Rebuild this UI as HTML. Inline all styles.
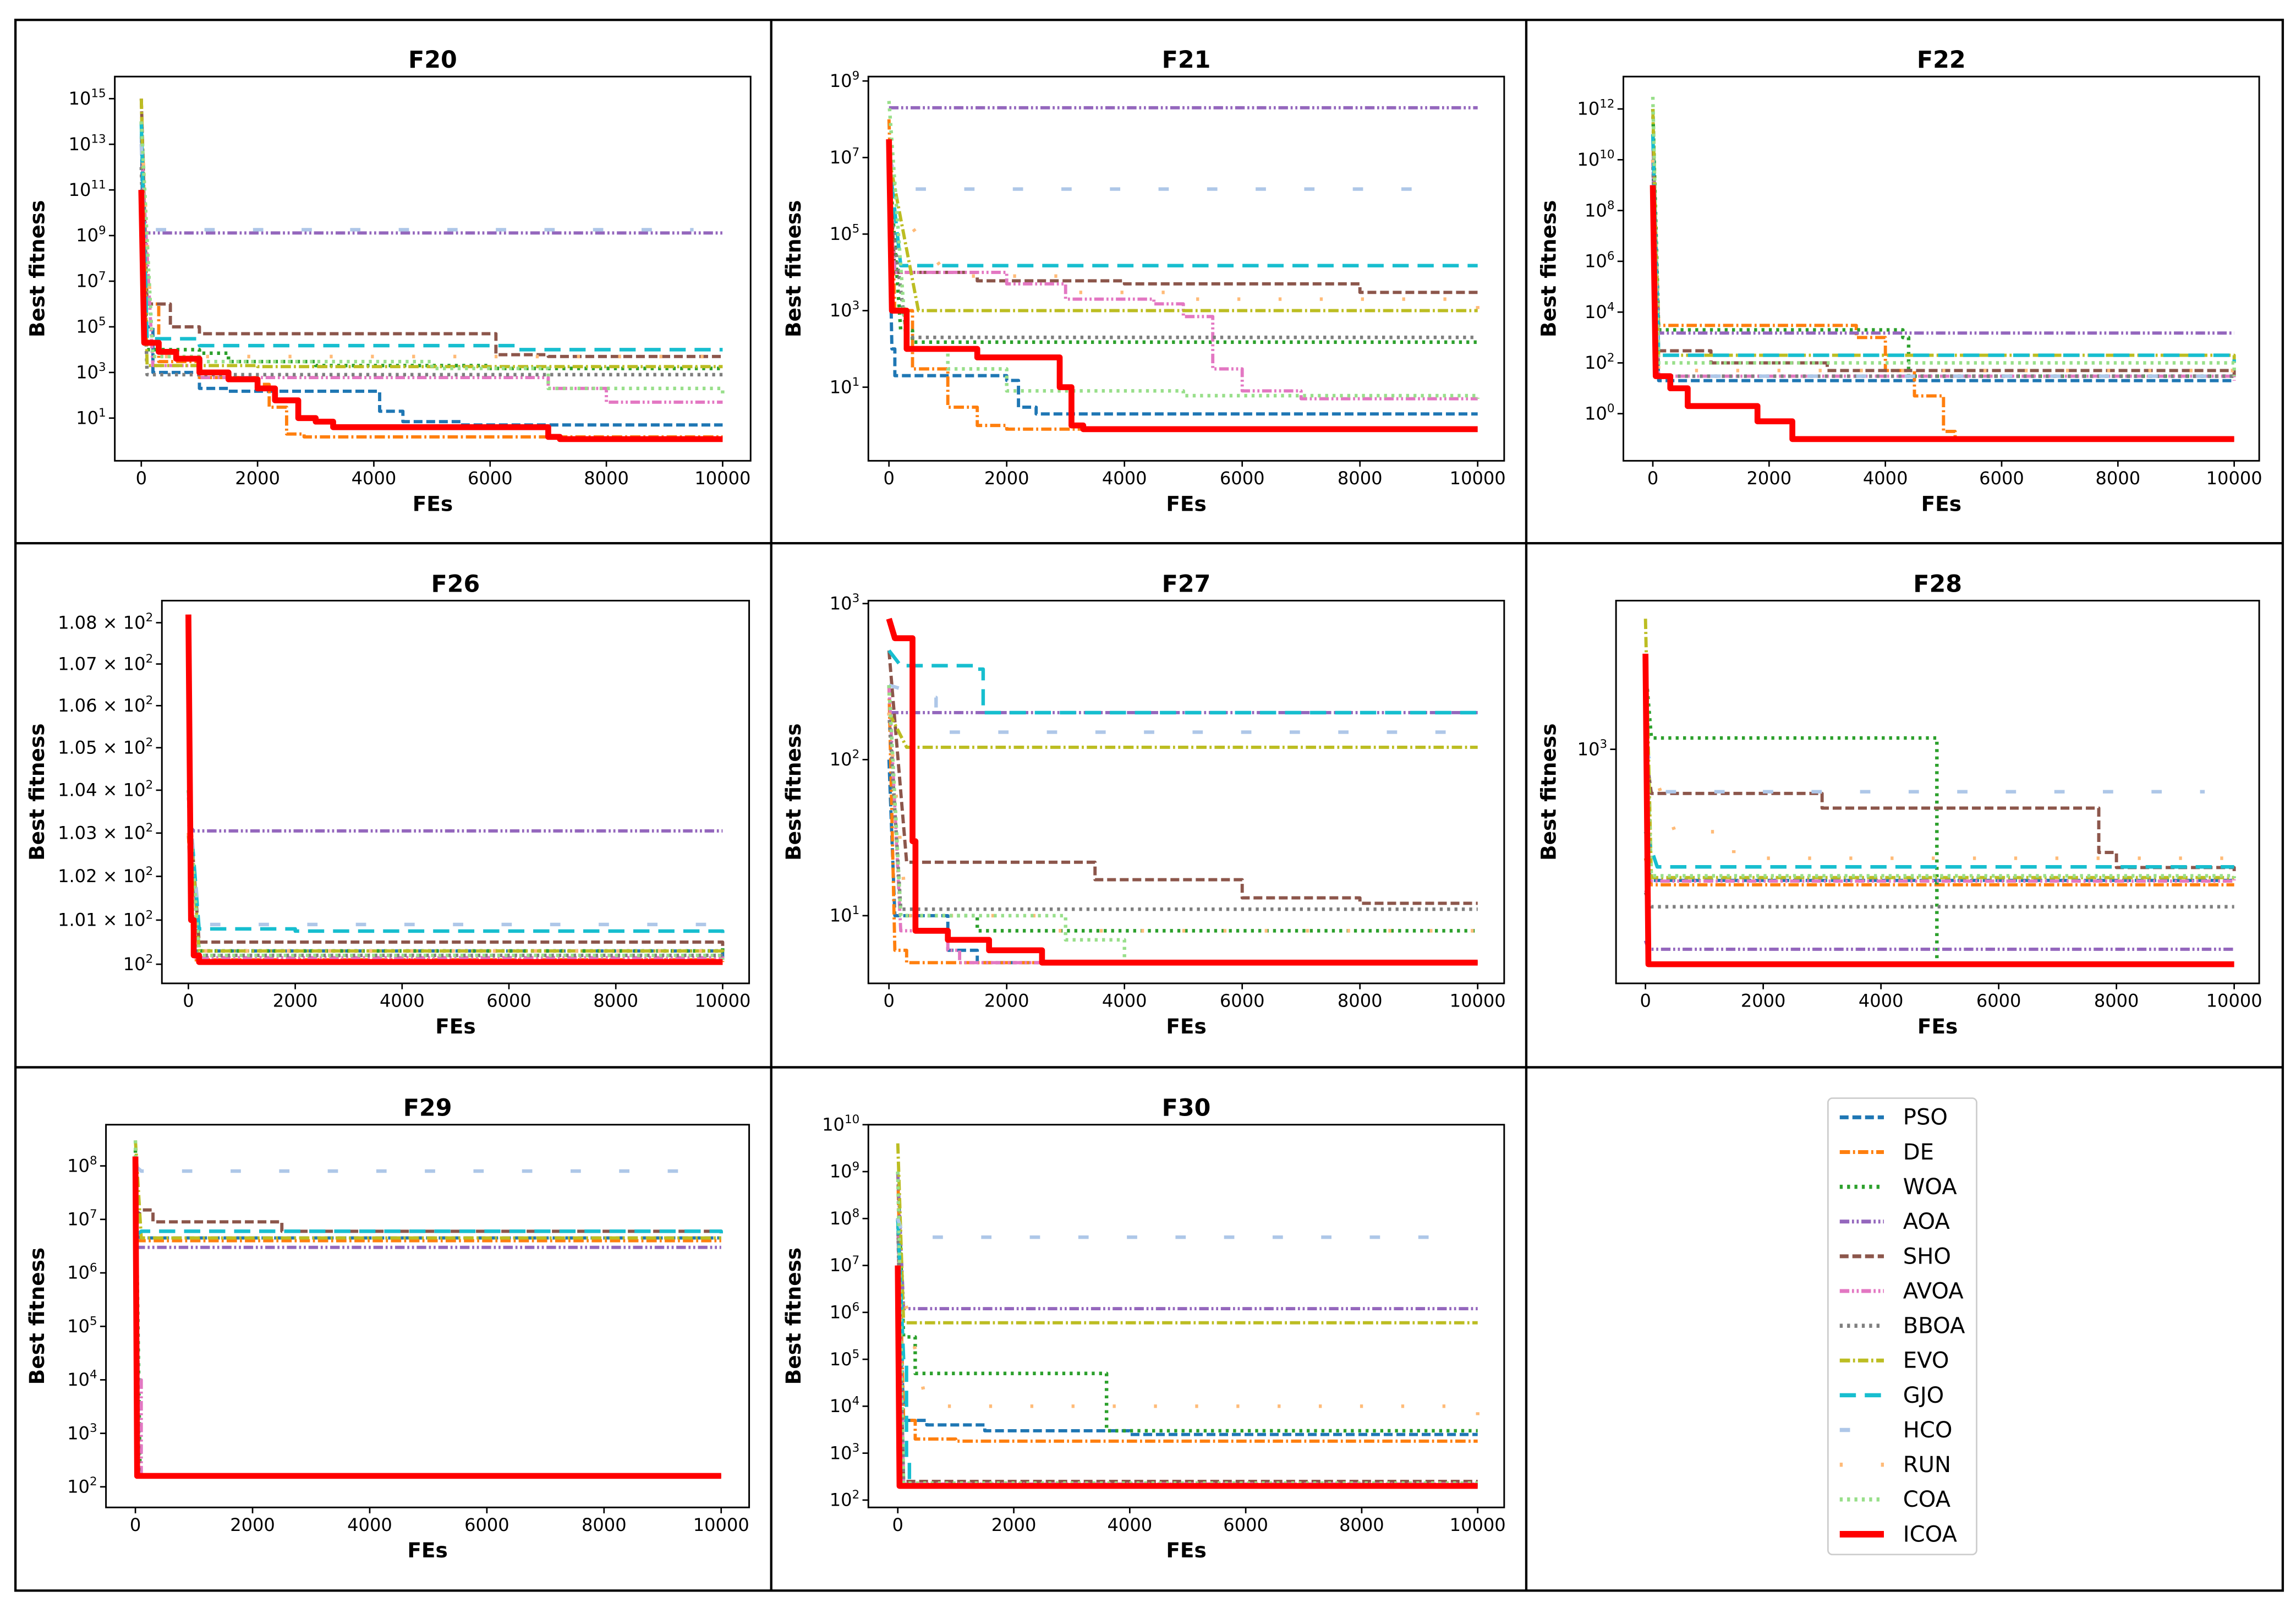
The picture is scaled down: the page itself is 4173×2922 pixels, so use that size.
<!DOCTYPE html>
<html><head><meta charset="utf-8"><style>
html,body{margin:0;padding:0;background:#fff;}
svg{display:block;font-family:"DejaVu Sans","Liberation Sans",sans-serif;}
</style></head><body>
<svg id="fig" xmlns="http://www.w3.org/2000/svg" width="4173" height="2922" viewBox="0 0 1560 1092.3">
<rect x="0" y="0" width="1560" height="1092.3" fill="#fff"/>
<g stroke="#000" stroke-width="1.6" fill="none">
<rect x="10.5" y="13.5" width="1540.5" height="1067"/>
<line x1="524" y1="13.5" x2="524" y2="1080.5"/>
<line x1="1037" y1="13.5" x2="1037" y2="1080.5"/>
<line x1="10.5" y1="369" x2="1551" y2="369"/>
<line x1="10.5" y1="725" x2="1551" y2="725"/>
</g>
<g id="panels"></g>
<g id="legend"></g>
</svg>
<script>
const algoNames = ["PSO","DE","WOA","AOA","SHO","AVOA","BBOA","EVO","GJO","HCO","RUN","COA","ICOA"];
const xTickValues = [0,2000,4000,6000,8000,10000];
const panelTitles = ["F20","F21","F22","F26","F27","F28","F29","F30"];
const f20Series = [
 [[0,1e14],[50,1e5],[200,1e3],[1000,200],[1500,150],[4000,150],[4100,20],[4500,7],[5500,5],[10000,5]],
 [[0,1e15],[100,1e6],[300,3e3],[1000,600],[2000,300],[2200,30],[2500,2],[2800,1.5],[10000,1.5]],
 [[0,1e14],[100,1e4],[1000,7000],[1500,3000],[3000,2000],[6000,1500],[10000,1500]],
 [[0,1e14],[50,1.3e9],[10000,1.3e9]],
 [[0,1e15],[100,1e6],[500,1e5],[1000,5e4],[6000,5e4],[6100,6000],[7000,5000],[10000,5000]],
 [[0,1e13],[200,2000],[1000,600],[6500,600],[7000,200],[8000,50],[10000,50]],
 [[0,1e12],[100,800],[10000,800]],
 [[0,1e15],[100,2000],[2000,1800],[10000,1800]],
 [[0,1e14],[100,3e4],[1000,1.5e4],[6500,1e4],[10000,1e4]],
 [[0,1e13],[50,1.8e9],[9500,1.8e9]],
 [[0,1e14],[200,5000],[10000,5000]],
 [[0,1e14],[200,5000],[1000,3000],[5000,1500],[7000,200],[10000,120]],
 [[0,1e11],[50,2e4],[300,8000],[600,4000],[1000,1000],[1500,500],[2000,200],[2300,60],[2700,10],[3000,7],[3300,4],[6500,4],[7000,1.5],[7200,1.2],[10000,1.2]]
];
const f21Series = [
 [[0,1e6],[50,100],[100,20],[1200,20],[2000,15],[2200,3],[2500,2],[10000,2]],
 [[0,1e8],[100,1000],[400,30],[1000,3],[1500,1],[2000,0.8],[10000,0.8]],
 [[0,1e7],[200,300],[400,150],[10000,150]],
 [[0,2e8],[10000,2e8]],
 [[0,1e7],[100,1e4],[1000,1e4],[1500,6000],[4000,5000],[8000,3000],[10000,2500]],
 [[0,1e6],[100,1e4],[2000,5000],[3000,2000],[4500,1500],[5000,700],[5500,30],[6000,8],[7000,5],[10000,5]],
 [[0,1e6],[300,200],[10000,200]],
 [[0,1e7],[500,1000],[10000,1000]],
 [[0,1e7],[200,1.5e4],[10000,1.5e4]],
 [[0,1e7],[200,1.5e6],[9500,1.5e6]],
 [[0,1e6],[1000,8000],[3000,3000],[5000,2000],[10000,1000]],
 [[0,3e8],[300,100],[1000,30],[2000,8],[5000,6],[10000,5]],
 [[0,3e7],[50,1000],[300,100],[1500,60],[2700,60],[2900,10],[3100,1],[3300,0.8],[10000,0.8]]
];
const f22Series = [
 [[0,1e10],[100,20],[10000,20]],
 [[0,1e11],[100,3e3],[3500,1000],[4000,50],[4500,5],[5000,0.2],[5200,0.1],[10000,0.1]],
 [[0,1e12],[100,2000],[4300,1000],[4400,30],[10000,30]],
 [[0,1e11],[100,1500],[10000,1500]],
 [[0,1e11],[100,300],[1000,100],[3000,50],[10000,30]],
 [[0,1e10],[100,30],[10000,20]],
 [[0,1e10],[100,30],[10000,25]],
 [[0,1e12],[100,200],[10000,100]],
 [[0,1e11],[100,200],[10000,100]],
 [[0,1e9],[100,30],[10000,30]],
 [[0,1e10],[100,50],[10000,30]],
 [[0,3e12],[100,100],[10000,30]],
 [[0,1e9],[50,30],[300,10],[600,2],[1500,2],[1800,0.5],[2200,0.5],[2400,0.1],[10000,0.1]]
];
const f26Series = [
 [[0,103],[100,100.3],[10000,100.15]],
 [[0,103],[100,100.1],[10000,100.05]],
 [[0,104],[200,100.3],[10000,100.45]],
 [[0,103.2],[100,103.05],[10000,103.05]],
 [[0,104],[200,100.5],[10000,100.3]],
 [[0,104],[100,100.15],[10000,100.1]],
 [[0,104],[100,100.2],[10000,100.2]],
 [[0,104],[200,100.3],[10000,100.25]],
 [[0,104],[200,100.8],[2000,100.75],[10000,100.7]],
 [[0,104],[200,100.9],[10000,100.75]],
 [[0,103],[200,100.3],[10000,100.2]],
 [[0,104],[200,100.2],[10000,100.1]],
 [[0,108.2],[50,101],[100,100.2],[200,100.05],[10000,100.05]]
];
const f27Series = [
 [[0,100],[100,10],[1000,6],[1500,5],[10000,5]],
 [[0,300],[100,6],[300,5],[10000,5]],
 [[0,300],[200,10],[1500,8],[10000,8]],
 [[0,200],[100,200],[10000,200]],
 [[0,500],[300,22],[3000,22],[3500,17],[5500,17],[6000,13],[8000,12],[10000,12]],
 [[0,300],[200,8],[1000,6],[1200,5],[10000,5]],
 [[0,200],[200,11],[10000,11]],
 [[0,200],[300,120],[10000,120]],
 [[0,500],[200,400],[1500,380],[1600,200],[10000,200]],
 [[0,300],[700,250],[800,150],[10000,150]],
 [[0,200],[300,10],[2500,8],[10000,8]],
 [[0,300],[200,10],[3000,7],[4000,5],[10000,5]],
 [[0,800],[100,600],[300,600],[400,30],[450,8],[1000,7],[1700,6],[2500,6],[2600,5],[10000,5]]
];
const f28Series = [
 [[0,400],[100,332],[10000,332]],
 [[0,400],[100,320],[10000,320]],
 [[0,2000],[100,1100],[4900,1100],[4950,164],[10000,164]],
 [[0,200],[50,186],[10000,186]],
 [[0,1000],[100,690],[2000,690],[3000,610],[7500,610],[7700,420],[8000,370],[10000,358]],
 [[0,300],[100,330],[10000,335]],
 [[0,300],[100,266],[10000,266]],
 [[0,3000],[100,340],[10000,340]],
 [[0,500],[200,372],[10000,372]],
 [[0,1000],[300,700],[9500,700]],
 [[0,1000],[500,500],[1500,400],[10000,345]],
 [[0,1500],[100,345],[10000,338]],
 [[0,2235],[50,164],[10000,164]]
];
const f29Series = [
 [[0,5e6],[100,4.5e6],[10000,4.5e6]],
 [[0,4e6],[100,4e6],[10000,4e6]],
 [[0,2e8],[80,160],[10000,160]],
 [[0,3e6],[100,3e6],[10000,3e6]],
 [[0,1e7],[100,1.5e7],[200,1.5e7],[300,9e6],[2200,9e6],[2500,6e6],[10000,5.5e6]],
 [[0,1e8],[50,1e4],[100,160],[10000,160]],
 [[0,1e8],[60,160],[10000,160]],
 [[0,3e8],[100,4.5e6],[10000,4.5e6]],
 [[0,5e6],[100,6e6],[10000,5.5e6]],
 [[0,1e8],[100,8e7],[9500,8e7]],
 [[0,1e7],[50,160],[10000,160]],
 [[0,3e8],[50,160],[10000,160]],
 [[0,1.5e8],[30,160],[10000,160]]
];
const f30Series = [
 [[0,1e8],[100,5000],[500,4000],[1500,3000],[3500,3000],[4000,2500],[10000,2500]],
 [[0,1e9],[100,5000],[300,2000],[1000,1800],[10000,1800]],
 [[0,1e9],[100,3e5],[300,5e4],[3500,5e4],[3600,3000],[10000,3000]],
 [[0,1e9],[100,1.2e6],[10000,1.2e6]],
 [[0,1e8],[100,250],[10000,250]],
 [[0,1e8],[100,220],[10000,220]],
 [[0,1e8],[100,210],[10000,210]],
 [[0,4e9],[100,6e5],[10000,6e5]],
 [[0,1e8],[100,1e5],[150,800],[200,200],[10000,200]],
 [[0,1e8],[100,4e7],[9500,4e7]],
 [[0,1e7],[500,1e4],[10000,5000]],
 [[0,1e9],[100,230],[10000,230]],
 [[0,1e7],[30,200],[10000,200]]
];
const f20Ticks=[1,3,5,7,9,11,13,15], f21Ticks=[1,3,5,7,9], f22Ticks=[0,2,4,6,8,10,12];
const f26Ticks=[100,101,102,103,104,105,106,107,108], f27Ticks=[1,2,3], f28Ticks=[3];
const f29Ticks=[2,3,4,5,6,7,8], f30Ticks=[2,3,4,5,6,7,8,9,10];

const styles = [
 {c:"#1f77b4",d:"6,2.6",w:2.2},{c:"#ff7f0e",d:"7,2,1.4,2",w:2.2},{c:"#2ca02c",d:"2,3",w:2.4},
 {c:"#9467bd",d:"6.5,1.8,1.4,1.8,1.4,1.8",w:2.2},{c:"#8c564b",d:"6,2.6",w:2.2},{c:"#e377c2",d:"6.5,1.8,1.4,1.8,1.4,1.8",w:2.2},
 {c:"#7f7f7f",d:"2,3",w:2.4},{c:"#bcbd22",d:"7,2,1.4,2",w:2.2},{c:"#17becf",d:"11,6",w:2.4},
 {c:"#aec7e8",d:"7,26",w:2.4},{c:"#ffbb78",d:"2,26",w:2.4},{c:"#98df8a",d:"2,3",w:2.4},{c:"#ff0000",d:"",w:4}
];
const panels = [
 {s:f20Series,t:f20Ticks,kind:"exp",box:[78,52,510,313],x0:96,x1:491,c:[[1e15,67],[1e1,284]],col:0,row:0,lab:30},
 {s:f21Series,t:f21Ticks,kind:"exp",box:[590,52,1022,313],x0:604,x1:1004,c:[[1e9,55],[1e1,263]],col:1,row:0,lab:544},
 {s:f22Series,t:f22Ticks,kind:"exp",box:[1103,52,1535,313],x0:1123,x1:1518,c:[[1e12,74],[1,281]],col:2,row:0,lab:1057},
 {s:f26Series,t:f26Ticks,kind:"lin",box:[110,408,509,668],x0:128,x1:491,c:[[108,423],[100,655]],col:0,row:1,lab:30},
 {s:f27Series,t:f27Ticks,kind:"exp",box:[590,408,1022,668],x0:604,x1:1004,c:[[1e3,410],[10,622]],col:1,row:1,lab:544},
 {s:f28Series,t:f28Ticks,kind:"exp",box:[1098,408,1535,668],x0:1118,x1:1518,c:[[1000,509],[164,655]],col:2,row:1,lab:1057},
 {s:f29Series,t:f29Ticks,kind:"exp",box:[72,764,509,1024],x0:92,x1:490,c:[[1e8,792],[1e2,1010]],col:0,row:2,lab:30},
 {s:f30Series,t:f30Ticks,kind:"exp",box:[590,764,1022,1024],x0:610,x1:1004,c:[[1e10,764],[1e2,1019]],col:1,row:2,lab:544}
];
const NS="http://www.w3.org/2000/svg";
function mk(tag,attrs,parent){const e=document.createElementNS(NS,tag);for(const k in attrs)e.setAttribute(k,attrs[k]);if(parent)parent.appendChild(e);return e;}
const root=document.getElementById("panels");
panels.forEach((p,pi)=>{
 const g=mk("g",{},root);
 
 
 const [bx0,by0,bx1,by1]=p.box;
 const xs=v=>p.x0+(p.x1-p.x0)*v/10000;
 const l0=Math.log10(p.c[0][0]), l1=Math.log10(p.c[1][0]);
 const ys=v=>p.c[0][1]+(p.c[1][1]-p.c[0][1])*(Math.log10(v)-l0)/(l1-l0);
 const cid="clip"+pi;
 const cp=mk("clipPath",{id:cid},g);mk("rect",{x:bx0,y:by0,width:bx1-bx0,height:by1-by0},cp);
 const sg=mk("g",{"clip-path":"url(#"+cid+")"},g);
 p.s.forEach((ser,si)=>{
  let d="";
  ser.forEach((pt,i)=>{
   const X=xs(pt[0]).toFixed(2),Y=ys(pt[1]).toFixed(2);
   if(i===0)d+="M"+X+","+Y;
   else if(i===1)d+="L"+X+","+Y;
   else d+="H"+X+"V"+Y;
  });
  const st=styles[si];
  const path=mk("path",{d:d,fill:"none",stroke:st.c,"stroke-width":st.w,"stroke-dasharray":st.d,"stroke-linejoin":"round"},sg);
  
  
 });
 const frame=mk("rect",{x:bx0,y:by0,width:bx1-bx0,height:by1-by0,fill:"none",stroke:"#000","stroke-width":1.1},g);
 
 
 const title=mk("text",{x:(bx0+bx1)/2,y:by0-6,"text-anchor":"middle","font-size":16,"font-weight":"bold"},g);title.textContent=panelTitles[pi];
 
 
 xTickValues.forEach(v=>{
  const X=xs(v);
  mk("line",{x1:X,y1:by1,x2:X,y2:by1+4,stroke:"#000","stroke-width":1},g);
  const t=mk("text",{x:X,y:by1+16,"text-anchor":"middle","font-size":12},g);t.textContent=v;
  
  
 });
 const xl=mk("text",{x:(bx0+bx1)/2,y:by1+34,"text-anchor":"middle","font-size":14,"font-weight":"bold"},g);xl.textContent="FEs";
 
 
 const my=(by0+by1)/2;
 const yl=mk("text",{x:p.lab,y:my,"text-anchor":"middle","font-size":14,"font-weight":"bold",transform:"rotate(-90 "+p.lab+" "+my+")"},g);yl.textContent="Best fitness";
 
 
 p.t.forEach(v=>{
  const val=p.kind==="exp"?Math.pow(10,v):v;
  const Y=ys(val);
  mk("line",{x1:bx0-4,y1:Y,x2:bx0,y2:Y,stroke:"#000","stroke-width":1},g);
  const t=mk("text",{x:bx0-6,y:Y+4,"text-anchor":"end","font-size":12},g);
  
  
  if(p.kind==="exp"){
   t.appendChild(document.createTextNode("10"));
   const s=mk("tspan",{"font-size":8,dy:-5},t);s.textContent=v;
  } else {
   if(v===100){t.appendChild(document.createTextNode("10"));const s=mk("tspan",{"font-size":8,dy:-5},t);s.textContent="2";}
   else{t.appendChild(document.createTextNode((v/100).toFixed(2)+" \u00d7 10"));const s=mk("tspan",{"font-size":8,dy:-5},t);s.textContent="2";}
  }
 });
});
const lg=document.getElementById("legend");
mk("rect",{x:1242,y:746,width:101,height:310,rx:3,fill:"#fff",stroke:"#ccc","stroke-width":1},lg);
algoNames.forEach((n,i)=>{
 const Y=759+i*23.6, st=styles[i];
 const e=mk("g",{},lg);
 
 
 mk("line",{x1:1250,y1:Y,x2:1280,y2:Y,stroke:st.c,"stroke-width":st.w+0.4,"stroke-dasharray":st.d},e);
 const t=mk("text",{x:1293,y:Y+5,"font-size":15},e);t.textContent=n;
});
</script>
</body></html>
